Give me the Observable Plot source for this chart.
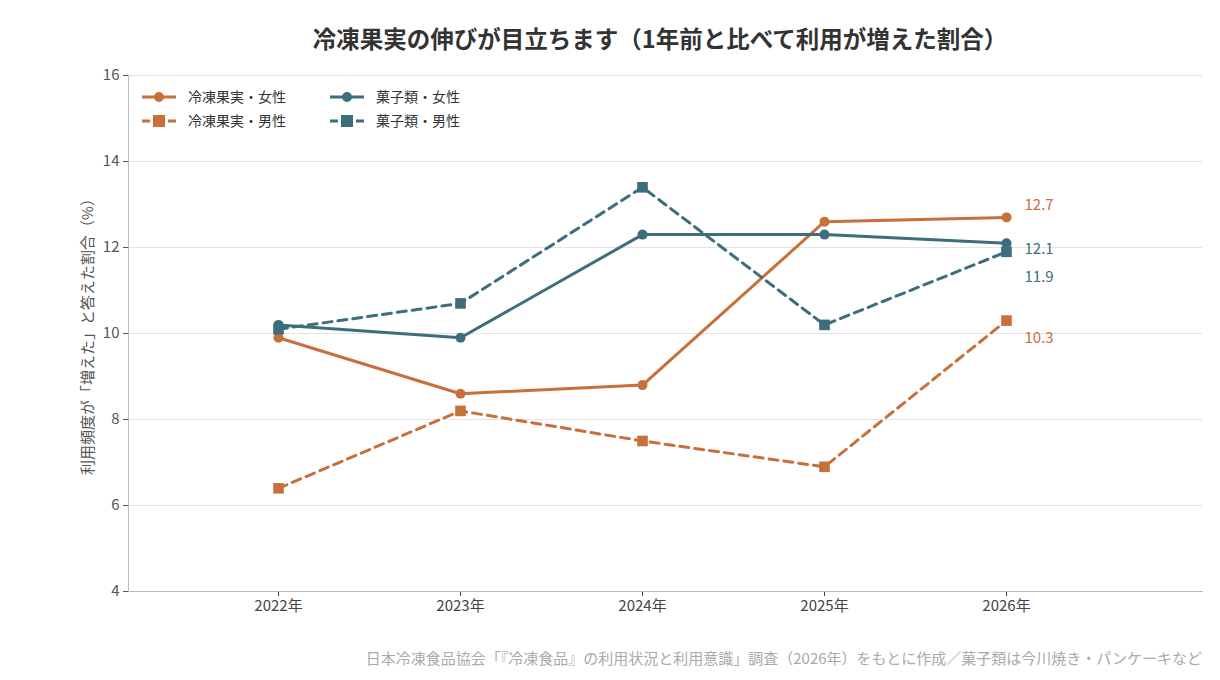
<!DOCTYPE html>
<html><head><meta charset="utf-8">
<script src="https://cdn.jsdelivr.net/npm/d3@7"></script>
<script src="https://cdn.jsdelivr.net/npm/@observablehq/plot@0.6"></script>
<style>
body{margin:0;background:#fff;font-family:"Noto Sans CJK JP","Noto Sans",sans-serif;}
#wrap{position:relative;width:1220px;height:680px;}
#title{height:60px;line-height:76px;text-align:center;font-size:23.5px;font-weight:bold;color:#333;padding-left:100px;box-sizing:border-box;}
#cap{position:absolute;right:18px;top:647px;font-size:15px;color:#aaa;}
</style></head>
<body><div id="wrap"><div id="title">冷凍果実の伸びが目立ちます（1年前と比べて利用が増えた割合）</div><div id="chart"></div>
<div id="cap">日本冷凍食品協会「『冷凍食品』の利用状況と利用意識」調査（2026年）をもとに作成／菓子類は今川焼き・パンケーキなど</div></div>
<script>
const years = ["2022年","2023年","2024年","2025年","2026年"];
const seriesNames = ["冷凍果実・女性","冷凍果実・男性","菓子類・女性","菓子類・男性"];
const fruitFemale = [9.9, 8.6, 8.8, 12.6, 12.7];
const fruitMale = [6.4, 8.2, 7.5, 6.9, 10.3];
const sweetsFemale = [10.2, 9.9, 12.3, 12.3, 12.1];
const sweetsMale = [10.1, 10.7, 13.4, 10.2, 11.9];
const yTicks = [4,6,8,10,12,14,16];

const ORANGE="#c8703a", TEAL="#3d6e7b";
const colors=[ORANGE,ORANGE,TEAL,TEAL];
const dashed=[false,true,false,true];
const symbols=["circle","square","circle","square"];
const labelDy=[-12,18,6,25];
const vals=[fruitFemale,fruitMale,sweetsFemale,sweetsMale];
const data=[];
vals.forEach((v,i)=>v.forEach((y,j)=>data.push({s:i,year:years[j],v:y})));
const last=vals.map((v,i)=>({s:i,year:years[4],v:v[4]}));

const m=[Plot.gridY(yTicks,{stroke:"#e3e3e3",strokeOpacity:1}),
  Plot.axisY({ticks:yTicks,tickSize:5,fontSize:15,color:"#555",label:null}),
  Plot.axisX({tickSize:5,fontSize:15,color:"#444",label:null}),
  Plot.frame({anchor:"left",stroke:"#bbb"}),
  Plot.frame({anchor:"bottom",stroke:"#bbb"})];
for(let i=0;i<4;i++){
  const d=data.filter(x=>x.s===i);
  m.push(Plot.line(d,{x:"year",y:"v",stroke:colors[i],strokeWidth:3,strokeDasharray:dashed[i]?"9,6":null}));
  m.push(Plot.dot(d,{x:"year",y:"v",fill:colors[i],symbol:symbols[i],r:symbols[i]==="square"?6:5}));
  m.push(Plot.text([last[i]],{x:"year",y:"v",text:d=>d.v.toFixed(1),fill:colors[i],dx:18,dy:labelDy[i],textAnchor:"start",fontSize:15}));
}
const chart=Plot.plot({width:1220,height:580,marginLeft:128,marginRight:18,marginTop:15,marginBottom:49,
  style:{fontFamily:"'Noto Sans CJK JP',sans-serif",overflow:"visible"},
  x:{type:"point",domain:years,range:[185,1099]},
  y:{domain:[4,16]},
  marks:m});
document.getElementById("chart").appendChild(chart);

const ns="http://www.w3.org/2000/svg";
const yl=document.createElementNS(ns,"text");
yl.setAttribute("transform","translate(93,273) rotate(-90)");
yl.setAttribute("text-anchor","middle");yl.setAttribute("font-size","15");yl.setAttribute("fill","#555");
yl.textContent="利用頻度が「増えた」と答えた割合（%）";
chart.appendChild(yl);
const lg=d3.select(chart).append("g").attr("text-anchor","start");
const pos=[[142,37],[142,61],[330,37],[330,61]];
for(let i=0;i<4;i++){
  const [x,y]=pos[i];
  lg.append("line").attr("x1",x).attr("x2",x+34).attr("y1",y).attr("y2",y).attr("stroke",colors[i]).attr("stroke-width",3).attr("stroke-dasharray",dashed[i]?"8,5":null);
  if(symbols[i]==="circle") lg.append("circle").attr("cx",x+17).attr("cy",y).attr("r",5).attr("fill",colors[i]);
  else lg.append("rect").attr("x",x+11).attr("y",y-6).attr("width",12).attr("height",12).attr("fill",colors[i]);
  lg.append("text").attr("x",x+46).attr("y",y+5).attr("font-size",14).attr("text-anchor","start").attr("fill","#333").text(seriesNames[i]);
}
</script></body></html>
